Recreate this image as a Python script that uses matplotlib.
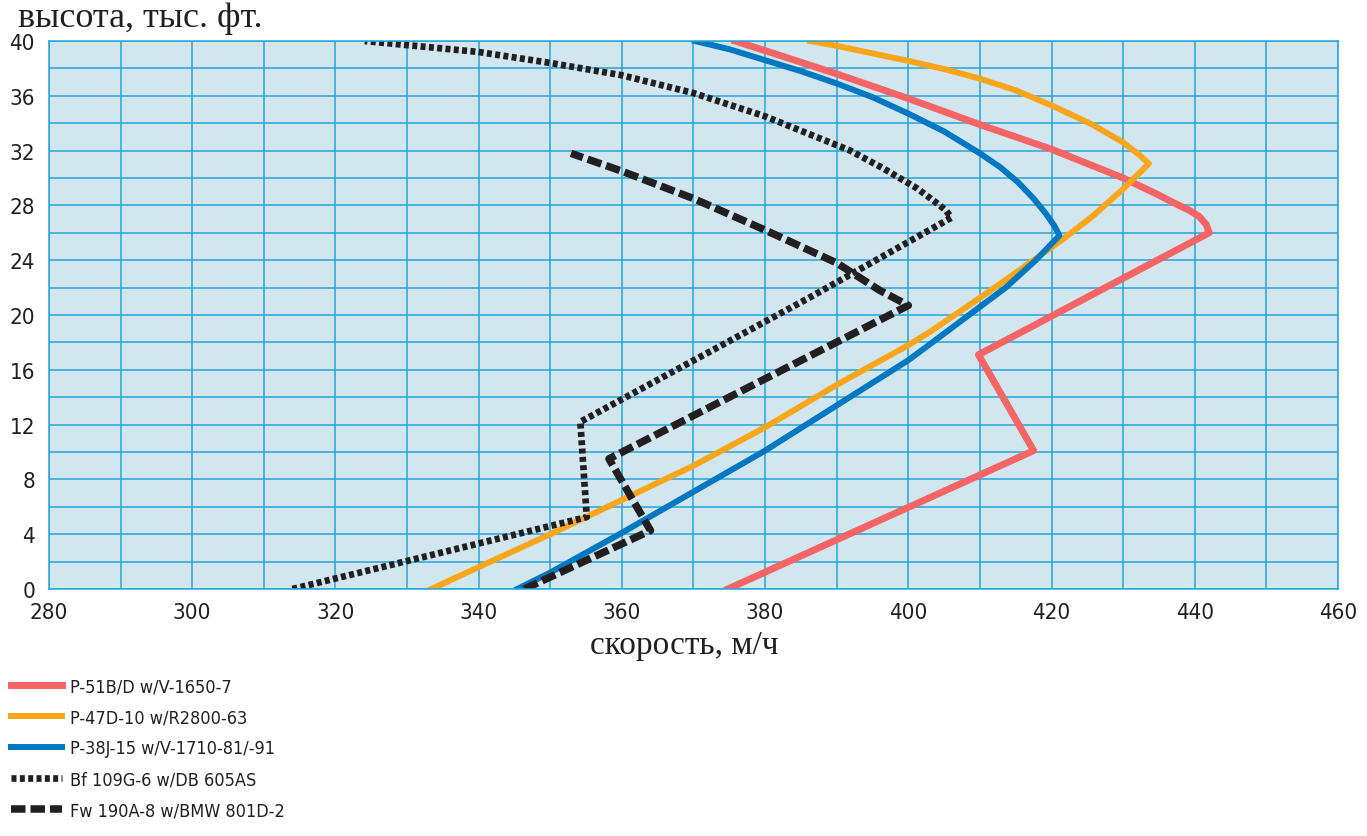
import matplotlib
matplotlib.use('Agg')
import matplotlib.pyplot as plt

# Speed (mph) vs altitude (thousand ft)
p51_speed = [374.8, 417.5, 409.8, 442.0, 441.6, 440.6, 439.2, 437.0, 435.0, 430.0, 420.0, 410.0, 400.0, 390.0, 380.0, 375.8]
p51_alt = [0.0, 10.1, 17.1, 26.0, 26.6, 27.2, 27.65, 28.2, 28.75, 30.0, 32.1, 33.9, 35.8, 37.6, 39.3, 40.0]

p47_speed = [333.4, 340.0, 350.0, 360.0, 370.0, 380.0, 390.0, 400.0, 403.1, 411.8, 416.4, 421.5, 425.7, 430.0, 433.6,
             432.2, 430.0, 425.7, 420.0, 415.0, 410.0, 405.0, 400.0, 395.0, 390.0, 386.3]
p47_alt = [0.0, 1.6, 4.0, 6.5, 9.0, 11.8, 14.9, 17.8, 18.8, 21.9, 23.6, 25.5, 27.2, 29.2, 31.05,
           31.7, 32.6, 33.9, 35.3, 36.4, 37.25, 37.95, 38.55, 39.1, 39.65, 40.0]

p38_speed = [345.4, 350.0, 360.0, 370.0, 380.0, 390.0, 400.0, 403.1, 407.7, 413.6, 417.8, 421.1,
             420.4, 419.2, 417.5, 415.3, 412.8, 410.0, 405.0, 400.0, 395.0, 390.0, 385.0, 380.0, 375.0, 370.2]
p38_alt = [0.0, 1.2, 4.1, 7.1, 10.1, 13.4, 16.7, 17.9, 19.7, 22.0, 24.0, 25.8,
           26.5, 27.4, 28.5, 29.7, 30.8, 31.8, 33.4, 34.7, 35.9, 36.9, 37.8, 38.6, 39.4, 40.0]

bf109_speed = [314.0, 355.1, 354.2, 386.3, 406.0, 405.3, 404.4, 401.2, 396.5, 391.9, 380.0, 370.0,
               360.0, 350.0, 340.0, 324.1]
bf109_alt = [0.0, 5.25, 12.2, 21.3, 27.1, 27.6, 28.0, 29.25, 30.7, 32.0, 34.5, 36.2,
             37.5, 38.4, 39.2, 40.0]

fw190_speed = [346.4, 364.0, 358.2, 400.0, 396.0, 390.0, 380.0, 370.0, 360.0, 352.9]
fw190_alt = [0.0, 4.27, 9.5, 20.7, 21.8, 23.8, 26.2, 28.5, 30.5, 31.8]

labels = ['P-51B/D w/V-1650-7', 'P-47D-10 w/R2800-63', 'P-38J-15 w/V-1710-81/-91',
          'Bf 109G-6 w/DB 605AS', 'Fw 190A-8 w/BMW 801D-2']

grid_col = '#27a4d8'
text_col = '#231f20'
serif = ['Liberation Serif', 'DejaVu Serif']

fig = plt.figure(figsize=(13.67, 8.37), dpi=100)
ax = fig.add_axes([0.0358, 0.2951, 0.9430, 0.6547])
ax.set_facecolor('#d2e6ef')

ax.plot(p51_speed, p51_alt, color='#f76465', lw=5.0, label=labels[0], solid_joinstyle='round')
ax.plot(p47_speed, p47_alt, color='#f9a61a', lw=4.3, label=labels[1], solid_joinstyle='round')
ax.plot(p38_speed, p38_alt, color='#0078c1', lw=4.3, label=labels[2], solid_joinstyle='round')
ax.plot(bf109_speed, bf109_alt, color=text_col, lw=4.8, linestyle=(0, (0.75, 0.5)), label=labels[3])
ax.plot(fw190_speed, fw190_alt, color=text_col, lw=5.4, linestyle=(0, (1.93, 0.67)), label=labels[4])

ax.set_xlim(280, 460)
ax.set_ylim(0, 40)
ax.set_xticks(range(280, 461, 20))
ax.set_xticks(range(290, 460, 20), minor=True)
ax.set_yticks(range(0, 41, 4))
ax.set_yticks(range(2, 40, 4), minor=True)
ax.grid(True, which='both', color=grid_col, lw=1.1)
ax.set_axisbelow(True)
for s in ax.spines.values():
    s.set_color(grid_col)
    s.set_linewidth(1.1)
ax.tick_params(which='both', length=0, colors=text_col)
ax.tick_params(axis='y', pad=10)
ax.tick_params(axis='x', pad=9)
for t in ax.get_xticklabels() + ax.get_yticklabels():
    t.set_fontfamily('DejaVu Sans')
    t.set_fontstretch('condensed')
    t.set_fontsize(16)

fig.text(0.013, 0.968, 'высота, тыс. фт.', family=serif, fontsize=26, color=text_col, va='baseline', ha='left')
fig.text(0.5004, 0.229, 'скорость, м/ч', family=serif, fontsize=24, color=text_col, va='center', ha='center')

leg = fig.legend(loc='upper left', bbox_to_anchor=(0.004, 0.196), frameon=False,
                 prop={'family': 'DejaVu Sans', 'stretch': 'condensed', 'size': 13}, labelcolor=text_col,
                 handlelength=2.85, handletextpad=0.45, labelspacing=0.72, borderaxespad=0, borderpad=0.3)

fig.savefig('out.png', dpi=100)
